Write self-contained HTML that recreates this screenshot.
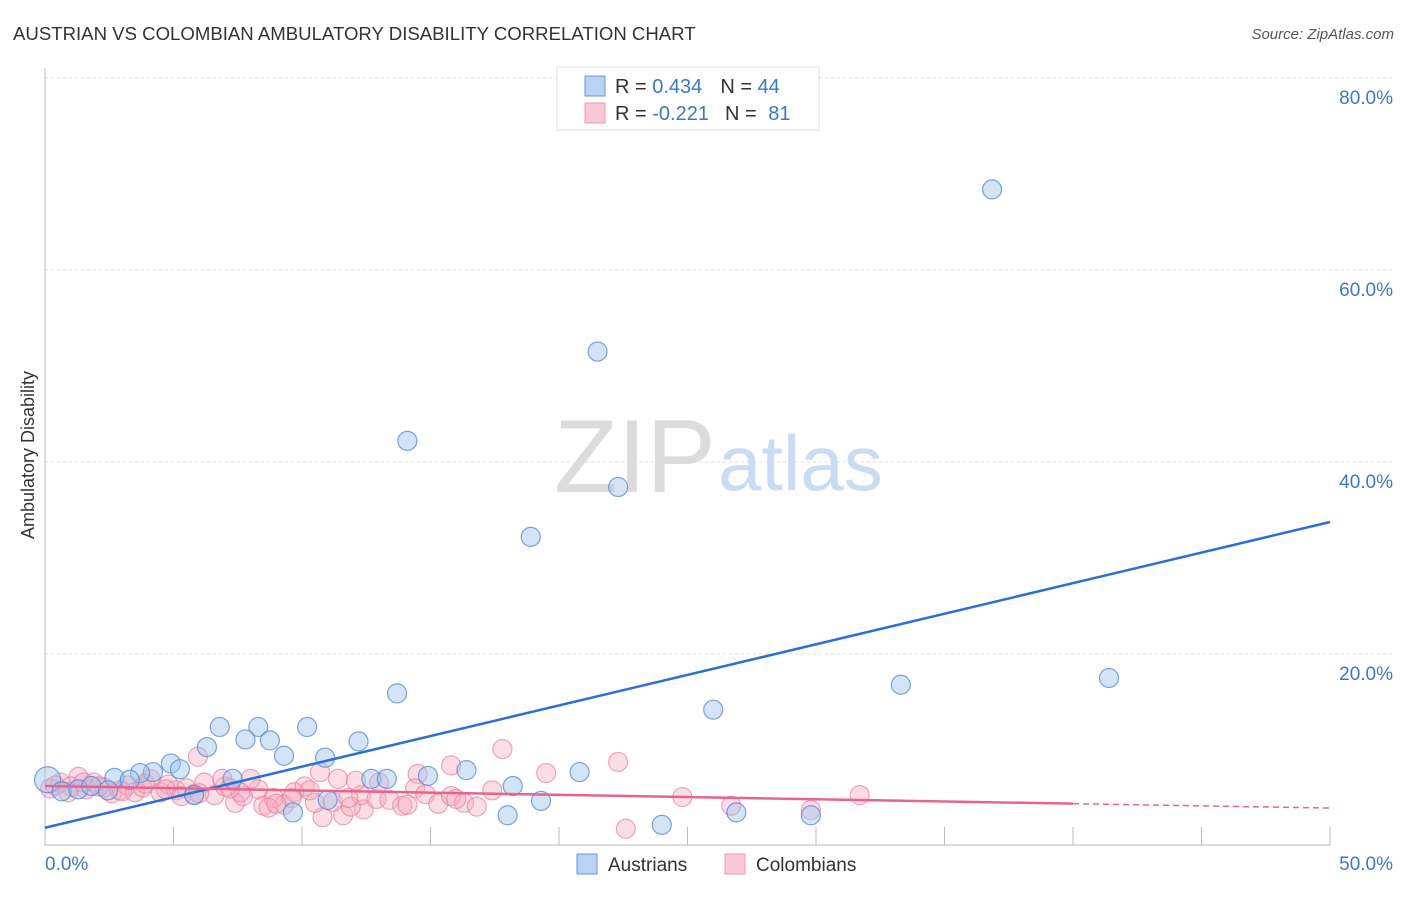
<!DOCTYPE html>
<html><head><meta charset="utf-8"><style>
body{margin:0;background:#fff;font-family:"Liberation Sans",sans-serif;}
svg text{font-family:"Liberation Sans",sans-serif;}
</style></head><body>
<svg width="1406" height="892" viewBox="0 0 1406 892">
<text x="13" y="40" font-size="18.6" fill="#333">AUSTRIAN VS COLOMBIAN AMBULATORY DISABILITY CORRELATION CHART</text>
<text x="1394" y="39" font-size="15" fill="#555" font-style="italic" text-anchor="end">Source: ZipAtlas.com</text>
<g id="grid"></g>
<g id="axes"></g>
<text x="554" y="492" font-size="104" fill="#dcdcdc" font-family="Liberation Serif">ZIP</text>
<text x="718" y="490" font-size="78" fill="#c9dcf3">atlas</text>
<g id="pts"></g>
<g id="trend"></g>
<text transform="translate(34,455) rotate(-90)" font-size="18" fill="#333" text-anchor="middle">Ambulatory Disability</text>
<g>
<rect x="557" y="67" width="262" height="63" fill="#fff" stroke="#ddd"/>
<rect x="585" y="76" width="20" height="20" fill="#b8d3f5" stroke="#6a9ad8"/>
<rect x="585" y="103" width="20" height="20" fill="#fac8d6" stroke="#eb9ab3"/>
<text x="615" y="93" font-size="20" fill="#333">R = <tspan fill="#3a78d0">0.434</tspan><tspan dx="18">N = </tspan><tspan fill="#3a78d0">44</tspan></text>
<text x="615" y="120" font-size="20" fill="#333">R = <tspan fill="#3a78d0">-0.221</tspan><tspan dx="16">N = </tspan><tspan fill="#3a78d0" dx="6">81</tspan></text>
</g>
<g>
<rect x="577" y="854" width="20" height="20" fill="#b8d3f5" stroke="#6a9ad8"/>
<text x="608" y="871" font-size="19" fill="#333">Austrians</text>
<rect x="725" y="854" width="20" height="20" fill="#fac8d6" stroke="#eb9ab3"/>
<text x="756" y="871" font-size="19" fill="#333">Colombians</text>
</g>
</svg>
<script>
const xTicks=[0,5,10,15,20,25,30,35,40,45,50];
const yTicks=[20,40,60,80];
const yTickLabels=["20.0%","40.0%","60.0%","80.0%"];
const austriansX=[36.85,21.5,14.1,22.3,18.9,13.7,33.3,41.4,26.0,6.8,8.3,7.8,8.75,10.2,6.3,12.2,9.3,10.9,4.9,4.2,5.25,3.7,2.7,3.3,7.3,12.7,13.3,14.9,16.4,20.8,18.2,19.3,11.0,9.65,18.0,24.0,26.9,29.8,5.8,0.1,0.65,1.3,1.8,2.45];
const austriansY=[68.4,51.5,42.2,37.4,32.2,15.9,16.8,17.5,14.2,12.4,12.4,11.1,11.0,12.4,10.3,10.9,9.4,9.2,8.6,7.7,8.0,7.6,7.1,6.9,7.0,7.0,7.0,7.3,7.9,7.7,6.25,4.7,4.8,3.5,3.2,2.2,3.5,3.2,5.3,6.9,5.7,5.9,6.25,5.8];
const colombiansX=[22.6,19.5,22.3,24.8,26.7,29.8,31.7,17.8,15.8,14.5,10.7,5.95,8.3,10.8,11.6,12.4,1.3,0.2,0.6,1.0,1.6,1.9,2.3,2.6,2.9,3.2,3.5,3.8,4.1,4.5,4.8,5.1,5.5,5.8,6.2,6.6,7.0,7.4,7.7,8.0,8.5,8.9,9.3,9.7,10.1,10.5,11.2,11.9,12.3,12.9,13.4,13.9,14.4,14.8,15.3,15.8,16.3,16.8,17.4,6.9,7.6,9.6,11.4,13.0,0.4,0.9,1.5,2.1,3.0,3.9,4.7,5.3,6.0,7.2,8.7,9.0,10.3,11.8,12.1,14.1,16.0];
const colombiansY=[1.8,7.6,8.75,5.1,4.2,3.75,5.3,10.1,8.4,7.5,7.7,9.3,5.9,3.0,3.2,3.8,7.2,6.0,6.6,6.2,5.9,6.6,6.1,5.5,5.8,6.3,5.6,6.1,7.0,5.6,6.4,5.8,6.0,5.4,6.6,5.3,6.2,4.5,5.2,7.0,4.2,5.0,4.3,5.6,6.2,4.5,4.6,4.1,5.3,4.9,4.8,4.2,6.0,5.4,4.4,5.2,4.5,4.1,5.8,7.0,5.6,5.0,7.0,6.6,6.3,5.6,6.6,6.2,5.7,6.5,5.9,5.2,5.5,6.0,4.0,4.4,5.8,5.0,6.8,4.3,4.9];
const austrianTrend=[1.9,33.75];
const colombianTrend=[6.25,3.95];
const X0=45,X1=1330,Y0=846,PXY=9.6;
function sx(v){return X0+(X1-X0)*v/50;}
function sy(v){return Y0-v*PXY;}
const NS="http://www.w3.org/2000/svg";
function mk(tag,attrs,parent){const e=document.createElementNS(NS,tag);for(const k in attrs)e.setAttribute(k,attrs[k]);parent.appendChild(e);return e;}
const grid=document.getElementById('grid'),axes=document.getElementById('axes'),pts=document.getElementById('pts'),trend=document.getElementById('trend');
yTicks.forEach((t,i)=>{
 const l=mk('line',{x1:45,x2:1392,y1:sy(t),y2:sy(t),stroke:'#ddd','stroke-dasharray':'3,3'},grid);
 
 
 const tx=mk('text',{x:1393,y:sy(t)+26,'font-size':19,fill:'#3a78d0','text-anchor':'end'},axes);
 tx.textContent=yTickLabels[i];
 
 
});
mk('line',{x1:45,x2:45,y1:68,y2:846,stroke:'#bbb'},axes);
mk('line',{x1:45,x2:1330,y1:845,y2:845,stroke:'#bbb'},axes);
xTicks.forEach(t=>{
 const l=mk('line',{x1:sx(t),x2:sx(t),y1:827,y2:845,stroke:'#bbb'},axes);
 
 
});
const xl0=mk('text',{x:45,y:870,'font-size':19,fill:'#3a78d0'},axes);xl0.textContent='0.0%';


const xl1=mk('text',{x:1393,y:870,'font-size':19,fill:'#3a78d0','text-anchor':'end'},axes);xl1.textContent='50.0%';


colombiansX.forEach((x,i)=>{
 const c=mk('circle',{cx:sx(x),cy:sy(colombiansY[i]),r:9.5,fill:'rgba(246,170,192,0.4)',stroke:'rgba(232,130,160,0.7)','stroke-width':1.2},pts);
 
 
});
austriansX.forEach((x,i)=>{
 const c=mk('circle',{cx:sx(x),cy:sy(austriansY[i]),r:i==39?13:9.5,fill:'rgba(160,195,238,0.45)',stroke:'rgba(80,135,210,0.75)','stroke-width':1.2},pts);
 
 
});
const bl=mk('line',{x1:sx(0),y1:sy(austrianTrend[0]),x2:sx(50),y2:sy(austrianTrend[1]),stroke:'#2a6fd6','stroke-width':2.5},trend);


const pm=colombianTrend[0]+(colombianTrend[1]-colombianTrend[0])*0.8;
const pl=mk('line',{x1:sx(0),y1:sy(colombianTrend[0]),x2:sx(40),y2:sy(pm),stroke:'#e8648e','stroke-width':2.5},trend);


const pd=mk('line',{x1:sx(40),y1:sy(pm),x2:sx(50),y2:sy(colombianTrend[1]),stroke:'#e8648e','stroke-width':1.5,'stroke-dasharray':'6,4'},trend);


</script>
</body></html>
